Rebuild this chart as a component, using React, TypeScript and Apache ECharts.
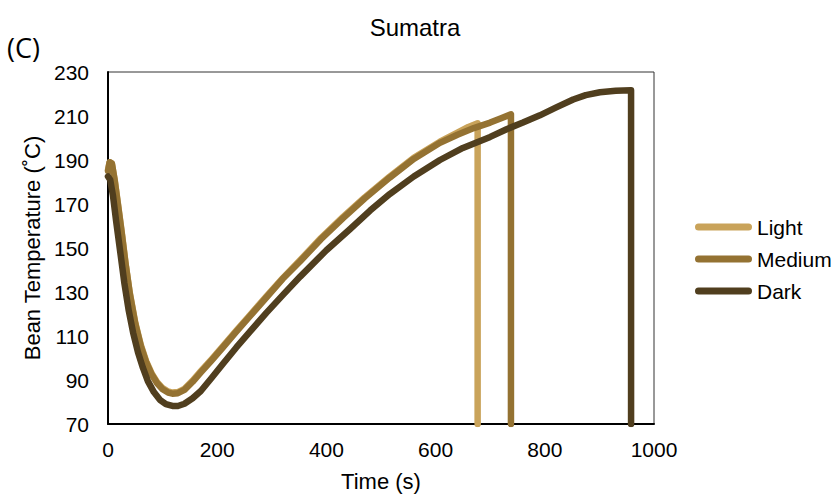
import React, { useEffect, useRef } from "react";
import * as echarts from "echarts";

const chartTitle = "Sumatra";
const panelLabel = "(C)";
const xAxisName = "Time (s)";
const yAxisName = "Bean Temperature (˚C)";
const seriesNames = ["Light", "Medium", "Dark"];
const seriesColors = ["#C9A35A", "#947232", "#503E1E"];
const xTicks = [0, 200, 400, 600, 800, 1000];
const yTicks = [70, 90, 110, 130, 150, 170, 190, 210, 230];

const lightData: [number, number][] = [
  [0, 185.5], [3, 189], [7, 188.5], [12, 181.5], [18, 170.5], [25, 157.5], [32, 143.5],
  [40, 129.5], [50, 116], [60, 106], [70, 98.5], [80, 93], [90, 89], [100, 86.3],
  [110, 84.8], [118, 84.3], [128, 84.5], [140, 86], [155, 89.7], [170, 94], [190, 99.5],
  [211, 105.5], [235, 112.5], [260, 119.5], [290, 128], [320, 136.3], [352, 144.5],
  [390, 154.5], [430, 164], [470, 173], [516, 182.5], [560, 191], [608, 198.3],
  [640, 202.5], [660, 205], [677, 206.7], [677, 70],
];

const mediumData: [number, number][] = [
  [0, 185], [3, 189], [7, 188.5], [12, 181], [18, 170], [25, 157], [32, 143],
  [40, 129], [50, 115.5], [60, 105.5], [70, 98], [80, 92.5], [90, 88.5], [100, 85.8],
  [110, 84.3], [118, 83.8], [128, 84], [140, 85.5], [155, 89.2], [170, 93.5], [190, 99],
  [211, 105], [235, 112], [260, 119], [290, 127.5], [320, 136], [352, 144],
  [390, 154], [430, 163.5], [470, 172.5], [516, 182], [560, 190.5], [608, 197.8],
  [640, 201.5], [670, 204.5], [700, 207], [720, 209], [738, 210.8], [738, 70],
];

const darkData: [number, number][] = [
  [0, 182.5], [4, 181], [9, 174], [15, 162], [22, 149], [30, 134], [38, 121.5],
  [46, 111.5], [55, 102.5], [64, 95.5], [73, 89.5], [84, 84.5], [95, 81], [106, 79],
  [118, 78.2], [128, 78.2], [140, 79.2], [155, 81.7], [170, 85], [190, 91],
  [211, 97.5], [235, 104.8], [260, 112], [290, 120.5], [320, 128.6], [352, 137],
  [400, 149], [443, 158.5], [480, 167], [516, 174.5], [560, 182.5], [608, 190],
  [650, 195.5], [700, 200.5], [730, 204], [760, 207], [791, 210.3], [820, 213.8],
  [852, 217.5], [875, 219.5], [901, 220.8], [930, 221.5], [958, 221.7], [958, 70],
];

const allData = [lightData, mediumData, darkData];

const FONT = "'Liberation Sans', Arial, sans-serif";
const legendIcon = "path://M3.5,0 H53.5 A3.5,3.5 0 0 1 53.5,7 H3.5 A3.5,3.5 0 0 1 3.5,0 Z";

export default function App() {
  const ref = useRef<HTMLDivElement>(null);
  useEffect(() => {
    if (!ref.current) return;
    const chart = echarts.init(ref.current, null, { renderer: "svg" });
    chart.setOption({
      animation: false,
      backgroundColor: "#ffffff",
      title: {
        text: chartTitle,
        left: 410,
        textAlign: "center",
        top: 10,
        textStyle: { fontFamily: FONT, fontSize: 24, fontWeight: "normal", color: "#000" },
      },
      graphic: [
        {
          type: "text",
          left: 7,
          top: 34,
          style: { text: panelLabel, font: "27px 'Open Sans', 'Noto Sans', sans-serif", fill: "#000" },
        },
      ],
      legend: {
        orient: "vertical",
        left: 690,
        top: 211,
        itemWidth: 57,
        itemHeight: 7,
        itemGap: 10,
        icon: legendIcon,
        data: seriesNames,
        textStyle: { fontFamily: FONT, fontSize: 21, color: "#000", lineHeight: 22 },
      },
      grid: {
        left: 108,
        right: 177,
        top: 72,
        bottom: 73,
        show: true,
        borderColor: "#333",
        borderWidth: 1,
      },
      xAxis: {
        type: "value",
        min: 0,
        max: 1000,
        name: xAxisName,
        nameLocation: "middle",
        nameGap: 46,
        nameTextStyle: { fontFamily: FONT, fontSize: 22, color: "#000" },
        axisLine: { show: true, lineStyle: { color: "#000", width: 2 } },
        axisTick: { show: false, customValues: xTicks },
        splitLine: { show: false },
        axisLabel: {
          fontFamily: FONT,
          fontSize: 21,
          color: "#000",
          margin: 15,
          customValues: xTicks,
          formatter: (v: number) => String(v),
        },
      },
      yAxis: {
        type: "value",
        min: 70,
        max: 230,
        name: yAxisName,
        nameLocation: "middle",
        nameGap: 63,
        nameTextStyle: { fontFamily: FONT, fontSize: 22, color: "#000" },
        axisLine: { show: true, lineStyle: { color: "#000", width: 2 } },
        axisTick: { show: false, customValues: yTicks },
        splitLine: { show: false },
        axisLabel: {
          fontFamily: FONT,
          fontSize: 21,
          color: "#000",
          margin: 19,
          customValues: yTicks,
          formatter: (v: number) => String(v),
        },
      },
      series: seriesNames.map((name, i) => ({
        name,
        type: "line",
        data: allData[i],
        showSymbol: false,
        symbol: "none",
        color: seriesColors[i],
        lineStyle: { width: 6.5, color: seriesColors[i], cap: "round", join: "round" },
        z: 2 + i,
      })),
    });
    return () => chart.dispose();
  }, []);
  return <div ref={ref} style={{ width: 831, height: 497, position: "absolute", left: 0, top: 0 }} />;
}
